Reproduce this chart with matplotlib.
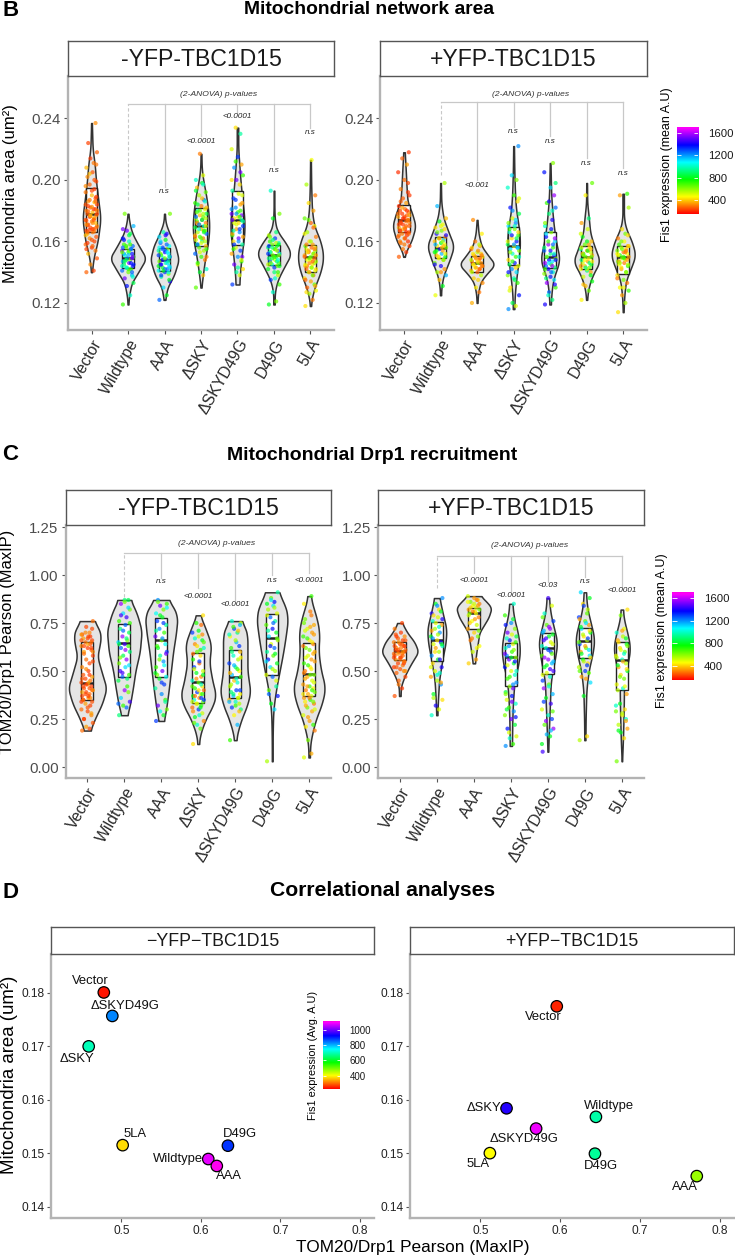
import numpy as np
import matplotlib
matplotlib.use("Agg")
import matplotlib.pyplot as plt
from matplotlib.colors import ListedColormap, Normalize, hsv_to_rgb

plt.rcParams['font.family'] = ['Liberation Sans', 'DejaVu Sans']

W, H = 735, 1259

categories = ["Vector", "Wildtype", "AAA", "ΔSKY", "ΔSKYD49G", "D49G", "5LA"]

# ---- panel B, mitochondrial area, box stats
area_minus_q1 = [.166, .1424, .141, .157, .1576, .145, .140]
area_minus_med = [.178, .149, .148, .170, .174, .1515, .150]
area_minus_q3 = [.1945, .155, .156, .1815, .1927, .158, .158]
area_plus_q1 = [.166, .149, .140, .145, .1425, .142, .139]
area_plus_med = [.174, .1555, .1457, .157, .150, .150, .150]
area_plus_q3 = [.1836, .163, .1507, .1695, .166, .157, .157]

# violin outlines: value levels and half widths
area_minus_levels = [
    [.14, .15, .16, .175, .19, .20, .21, .22, .237],
    [.119, .125, .133, .14, .149, .157, .165, .172, .178],
    [.122, .13, .138, .148, .157, .165, .172, .178],
    [.13, .14, .15, .16, .17, .18, .19, .2, .207, .217],
    [.132, .14, .15, .165, .175, .19, .2, .21, .22, .234],
    [.119, .127, .135, .143, .152, .16, .166, .172, .18, .193],
    [.118, .125, .132, .14, .15, .16, .17, .18, .195, .213],
]
area_minus_widths = [
    [.01, .06, .17, .25, .17, .12, .09, .03, .01],
    [.01, .03, .1, .28, .5, .3, .12, .04, .01],
    [.02, .08, .26, .39, .3, .14, .03, .01],
    [.01, .06, .12, .2, .23, .2, .14, .06, .02, .01],
    [.05, .07, .11, .19, .19, .12, .08, .05, .02, .02],
    [.02, .02, .1, .27, .48, .3, .1, .03, .01, .01],
    [.01, .05, .14, .28, .36, .28, .1, .04, .02, .01],
]
area_plus_levels = [
    [.15, .155, .16, .17, .18, .185, .195, .205, .218],
    [.125, .13, .138, .148, .157, .166, .175, .185, .198],
    [.12, .127, .134, .14, .145, .15, .157, .165, .174],
    [.116, .125, .135, .15, .16, .17, .18, .19, .205, .222],
    [.119, .125, .135, .148, .16, .17, .18, .19, .2, .211],
    [.122, .13, .138, .147, .155, .165, .175, .185, .198],
    [.114, .125, .135, .143, .151, .16, .168, .175, .191],
]
area_plus_widths = [
    [.01, .08, .2, .32, .2, .1, .07, .05, .02],
    [.015, .02, .08, .25, .37, .22, .08, .02, .01],
    [.01, .03, .1, .3, .5, .33, .12, .04, .01],
    [.02, .03, .07, .15, .18, .14, .07, .04, .02, .01],
    [.02, .03, .08, .27, .16, .1, .06, .03, .02, .01],
    [.01, .05, .16, .37, .24, .1, .06, .015, .01],
    [.01, .03, .08, .22, .34, .24, .08, .02, .02],
]

# single cells
area_minus_points = [
    [.14, .141, .145, .149, .152, .154, .156, .158, .16, .162, .163, .165, .166, .167, .168, .169, .17, .171, .172, .173, .174, .175, .176, .177, .178, .179, .18, .181, .182, .184, .186, .188, .19, .192, .194, .197, .199, .202, .205, .208, .211, .214, .218, .224, .237],
    [.119, .125, .131, .133, .136, .138, .14, .141, .142, .143, .144, .145, .146, .147, .148, .149, .15, .151, .152, .153, .154, .155, .156, .157, .158, .16, .162, .165, .167, .17, .178],
    [.122, .125, .13, .134, .137, .139, .14, .141, .142, .143, .144, .145, .146, .147, .148, .149, .15, .151, .152, .153, .154, .155, .156, .157, .159, .161, .163, .165, .166, .178],
    [.13, .138, .14, .142, .145, .148, .15, .152, .154, .156, .157, .158, .16, .161, .162, .163, .165, .166, .167, .168, .169, .17, .171, .172, .173, .174, .175, .176, .177, .178, .18, .181, .183, .185, .187, .19, .192, .195, .198, .2, .203, .217],
    [.132, .138, .14, .142, .145, .147, .15, .152, .154, .156, .158, .16, .162, .164, .166, .168, .17, .172, .174, .176, .178, .18, .182, .185, .188, .191, .193, .197, .2, .203, .208, .21, .215, .22, .23, .234],
    [.119, .121, .127, .132, .135, .138, .14, .142, .144, .145, .146, .147, .148, .149, .15, .151, .152, .153, .154, .155, .156, .157, .158, .159, .16, .162, .164, .166, .175, .178, .193],
    [.118, .122, .126, .128, .13, .132, .134, .136, .138, .14, .141, .142, .143, .144, .145, .146, .147, .148, .149, .15, .151, .152, .153, .154, .155, .156, .157, .158, .16, .163, .166, .17, .172, .175, .18, .185, .19, .197, .213],
]
area_minus_extra = [
    [.161, .164, .1665, .1675, .169, .1705, .172, .1735, .175, .1765, .178, .1795, .181, .1825, .184, .1855, .187, .189, .166, .168, .171, .174, .177, .18, .183, .186, .193, .196, .2, .204, .21, .159, .157, .155],
    [.14, .142, .144, .146, .148, .15, .152, .154, .156, .158, .143, .145, .147, .149, .151, .153, .155, .157, .137, .161, .164, .168],
    [.138, .14, .142, .144, .146, .148, .15, .152, .154, .156, .158, .141, .143, .145, .147, .149, .151, .153, .155, .135, .16, .164],
    [.155, .158, .16, .162, .164, .166, .168, .17, .172, .174, .176, .178, .18, .182, .184, .186, .159, .163, .167, .171, .175, .179, .188, .193, .197, .153, .15, .146],
    [.15, .155, .16, .165, .168, .171, .173, .175, .177, .179, .181, .184, .187, .19, .167, .172, .174, .176, .178, .163, .158, .148, .143, .2, .205, .212],
    [.14, .143, .145, .147, .149, .151, .153, .155, .157, .159, .161, .144, .146, .148, .15, .152, .154, .156, .158, .163, .136],
    [.135, .138, .14, .142, .144, .146, .148, .15, .152, .154, .156, .158, .143, .145, .147, .149, .151, .153, .155, .16, .165, .169, .174, .131, .127],
]
area_minus_fis = [
    [270, 230, 320, 250, 370, 290, 220],
    [700, 1000, 1350, 850, 1500, 1150, 620, 1250],
    [1250, 800, 1100, 1400, 950, 620, 1300, 1050],
    [650, 380, 820, 1000, 500, 300, 700, 1250, 560],
    [1300, 500, 950, 420, 1500, 700, 1200, 350],
    [800, 620, 1000, 700, 1300, 540, 900],
    [420, 300, 560, 470, 270, 640, 350],
]
area_plus_points = [
    [.15, .153, .155, .157, .159, .16, .162, .163, .164, .165, .166, .167, .168, .169, .17, .171, .172, .173, .174, .175, .176, .177, .178, .179, .18, .181, .183, .185, .188, .19, .194, .198, .2, .205, .21, .214, .218],
    [.125, .131, .135, .138, .14, .142, .144, .146, .148, .149, .15, .151, .152, .153, .154, .155, .156, .157, .158, .159, .16, .161, .162, .163, .165, .167, .169, .171, .173, .175, .183, .198],
    [.12, .127, .13, .133, .136, .138, .14, .141, .142, .143, .144, .145, .146, .147, .148, .149, .15, .151, .152, .153, .155, .157, .16, .165, .174],
    [.116, .118, .12, .125, .13, .133, .136, .138, .14, .142, .144, .145, .146, .148, .15, .152, .154, .155, .156, .157, .158, .16, .162, .164, .166, .168, .17, .172, .175, .178, .182, .186, .19, .195, .2, .203, .222],
    [.119, .122, .127, .13, .133, .135, .137, .139, .14, .142, .143, .144, .145, .146, .147, .148, .149, .15, .151, .152, .154, .156, .158, .16, .163, .166, .17, .174, .178, .182, .185, .19, .195, .205, .211],
    [.122, .128, .131, .134, .137, .14, .141, .142, .143, .144, .145, .146, .147, .148, .149, .15, .151, .152, .153, .154, .155, .156, .158, .16, .163, .168, .172, .175, .19, .198],
    [.114, .12, .125, .128, .13, .133, .135, .138, .14, .142, .144, .145, .146, .147, .148, .149, .15, .151, .152, .153, .154, .155, .156, .157, .158, .16, .162, .165, .168, .182, .19, .191],
]
area_plus_extra = [
    [.16, .162, .164, .166, .168, .17, .172, .174, .176, .178, .18, .182, .165, .167, .169, .171, .173, .175, .177, .186, .192, .158],
    [.14, .145, .148, .15, .152, .154, .156, .158, .16, .162, .164, .166, .168, .17, .153, .157],
    [.135, .14, .142, .143, .144, .145, .146, .147, .148, .149, .15, .151, .152, .154, .156, .158],
    [.128, .135, .14, .143, .147, .15, .153, .156, .158, .16, .162, .164, .166, .168, .17, .172, .174, .18, .188],
    [.125, .132, .136, .14, .142, .144, .146, .148, .15, .152, .154, .156, .158, .16, .162, .165, .168, .172, .18, .186, .198],
    [.132, .138, .142, .144, .146, .148, .15, .152, .154, .156, .158, .143, .147, .151, .155, .16, .165],
    [.13, .136, .14, .143, .145, .147, .149, .151, .153, .155, .157, .146, .148, .15, .152, .154, .16, .164],
]
area_plus_fis = [
    [260, 220, 300, 240, 280, 210, 340],
    [480, 800, 380, 1150, 560, 330, 1400, 620, 420],
    [360, 290, 440, 320, 400, 540, 270],
    [1200, 500, 850, 1350, 420, 700, 1000, 600, 1100],
    [1400, 900, 1250, 700, 1550, 1100, 1350, 600, 1000],
    [450, 640, 380, 780, 520, 340, 900],
    [420, 560, 340, 700, 460, 300, 620],
]

# ---- panel C, Drp1 recruitment
drp1_minus_q1 = [.349, .47, .47, .332, .358, .479, .37]
drp1_minus_med = [.44, .644, .66, .444, .467, .67, .483]
drp1_minus_q3 = [.653, .743, .774, .592, .61, .795, .644]
drp1_plus_q1 = [.56, .554, .72, .42, .483, .57, .40]
drp1_plus_med = [.606, .66, .80, .575, .618, .658, .56]
drp1_plus_q3 = [.65, .753, .83, .644, .696, .722, .653]

drp1_minus_levels = [
    [.19, .25, .33, .41, .5, .575, .63, .68, .72, .76],
    [.27, .33, .42, .5, .6, .71, .8, .87],
    [.24, .3, .4, .5, .6, .7, .78, .84, .87],
    [.12, .17, .25, .32, .375, .45, .54, .64, .72, .79],
    [.14, .18, .25, .32, .39, .5, .6, .68, .73, .76],
    [.03, .1, .2, .3, .4, .5, .6, .7, .78, .85, .91],
    [.05, .1, .15, .25, .33, .415, .5, .6, .7, .78, .85, .89],
]
drp1_minus_widths = [
    [.08, .2, .4, .52, .38, .27, .33, .37, .32, .18],
    [.08, .16, .24, .3, .42, .47, .34, .17],
    [.07, .13, .2, .26, .32, .4, .44, .32, .18],
    [.02, .05, .2, .4, .48, .38, .3, .35, .2, .05],
    [.03, .06, .17, .32, .41, .33, .33, .33, .27, .16],
    [.01, .01, .015, .03, .1, .2, .3, .38, .43, .34, .16],
    [.02, .02, .05, .18, .35, .44, .32, .25, .28, .2, .08, .04],
]
drp1_plus_levels = [
    [.37, .42, .47, .53, .6, .65, .7, .75],
    [.27, .35, .45, .55, .65, .72, .8, .88],
    [.54, .6, .7, .78, .83, .87, .89],
    [.11, .25, .35, .45, .55, .62, .7, .78, .85],
    [.08, .2, .35, .45, .55, .65, .72, .8, .88],
    [.14, .25, .4, .5, .6, .67, .75, .83, .91],
    [.03, .15, .3, .45, .55, .62, .7, .77, .82],
]
drp1_plus_widths = [
    [.02, .03, .12, .28, .5, .4, .2, .06],
    [.015, .03, .06, .14, .24, .26, .16, .07],
    [.03, .07, .15, .4, .48, .3, .18],
    [.03, .04, .06, .1, .22, .25, .19, .08, .04],
    [.01, .03, .06, .08, .18, .26, .17, .07, .03],
    [.015, .02, .04, .1, .22, .26, .16, .06, .03],
    [.005, .03, .05, .06, .17, .23, .15, .05, .03],
]

drp1_minus_points = [
    [.19, .2, .21, .23, .25, .27, .29, .3, .32, .33, .34, .35, .36, .37, .38, .39, .4, .41, .42, .43, .44, .45, .46, .47, .48, .5, .52, .54, .56, .58, .6, .61, .62, .63, .64, .65, .66, .67, .68, .69, .7, .73, .76],
    [.27, .31, .32, .34, .36, .39, .4, .45, .46, .47, .48, .5, .52, .54, .56, .58, .6, .62, .63, .64, .65, .66, .68, .7, .72, .74, .76, .78, .8, .82, .85, .87, .87],
    [.24, .27, .29, .3, .32, .35, .38, .41, .43, .46, .47, .48, .5, .52, .55, .58, .6, .62, .64, .66, .68, .7, .72, .74, .76, .78, .8, .82, .84, .85, .87],
    [.12, .2, .22, .24, .26, .28, .3, .31, .32, .33, .34, .35, .36, .37, .38, .39, .4, .41, .42, .44, .45, .47, .49, .5, .52, .54, .56, .58, .6, .62, .64, .66, .68, .7, .74, .75, .79],
    [.14, .22, .27, .3, .31, .33, .34, .35, .36, .37, .38, .39, .4, .42, .44, .45, .47, .48, .5, .52, .54, .56, .58, .6, .62, .65, .68, .7, .72, .75, .76],
    [.03, .3, .33, .37, .4, .42, .47, .48, .5, .52, .54, .56, .58, .6, .62, .64, .66, .68, .7, .72, .74, .76, .78, .8, .82, .84, .85, .86, .88, .91],
    [.05, .07, .14, .19, .21, .22, .24, .27, .29, .31, .33, .34, .35, .36, .37, .38, .39, .4, .41, .42, .43, .45, .47, .48, .5, .52, .54, .56, .58, .6, .62, .64, .66, .68, .7, .72, .74, .77, .81, .85, .89],
]
drp1_minus_extra = [
    [.25, .28, .31, .34, .36, .38, .4, .42, .44, .46, .48, .51, .55, .59, .62, .64, .66, .68, .7, .72, .35, .37, .39, .41, .43, .6, .63, .65, .67, .69],
    [.33, .42, .49, .53, .57, .61, .64, .67, .71, .75, .79, .83, .86],
    [.34, .44, .49, .53, .56, .59, .63, .67, .71, .75, .79, .83, .86],
    [.23, .27, .29, .31, .33, .35, .37, .38, .4, .42, .43, .46, .48, .51, .55, .59, .61, .63, .65, .67, .69, .71, .34, .36],
    [.29, .32, .34, .36, .38, .4, .43, .46, .49, .51, .53, .57, .6, .63, .66, .69, .71, .73, .74],
    [.38, .45, .51, .55, .59, .63, .67, .71, .75, .79, .83, .87],
    [.26, .3, .32, .34, .36, .38, .4, .42, .44, .46, .48, .49, .51, .53, .55, .57, .59, .61, .63, .65, .67, .69, .71, .73, .75, .79],
]
drp1_minus_fis = [
    [280, 230, 340, 250, 220, 310, 240],
    [900, 1250, 700, 1450, 1100, 620, 1550, 850],
    [1300, 800, 1050, 620, 1500, 700, 1200, 950],
    [420, 650, 1000, 320, 800, 520, 1300, 280, 720],
    [700, 1150, 450, 900, 1300, 560, 1000, 380],
    [560, 1100, 800, 1350, 650, 950, 1250, 500],
    [500, 360, 620, 300, 440, 700, 340],
]
drp1_plus_points = [
    [.37, .41, .43, .47, .49, .5, .51, .52, .53, .54, .55, .56, .57, .58, .59, .6, .61, .62, .63, .64, .65, .66, .67, .68, .69, .7, .72, .75],
    [.27, .3, .32, .35, .38, .43, .45, .47, .49, .5, .52, .54, .56, .58, .6, .62, .63, .64, .65, .66, .68, .7, .72, .74, .76, .78, .8, .82, .85, .88],
    [.54, .56, .6, .63, .66, .68, .7, .72, .74, .76, .78, .8, .81, .82, .83, .84, .85, .86, .87, .88, .89],
    [.11, .12, .15, .16, .2, .22, .25, .27, .29, .31, .33, .35, .37, .39, .41, .42, .44, .46, .48, .5, .52, .54, .56, .57, .58, .6, .62, .64, .66, .68, .7, .72, .75, .79, .85],
    [.08, .16, .17, .2, .22, .25, .27, .3, .33, .36, .38, .41, .43, .45, .47, .49, .5, .52, .54, .56, .58, .6, .62, .64, .66, .68, .7, .72, .74, .76, .8, .84, .88],
    [.14, .16, .37, .44, .47, .49, .5, .52, .54, .56, .58, .6, .62, .64, .66, .68, .7, .72, .74, .76, .78, .82, .85, .88, .91],
    [.03, .15, .18, .2, .22, .25, .27, .29, .3, .33, .38, .4, .41, .43, .46, .48, .5, .52, .54, .56, .58, .6, .62, .64, .66, .68, .7, .72, .79, .82],
]
drp1_plus_extra = [
    [.45, .5, .52, .54, .56, .57, .58, .59, .6, .61, .62, .63, .64, .65, .66, .68, .55, .57, .59, .6, .61, .63],
    [.36, .44, .48, .52, .56, .6, .64, .67, .69, .71, .73, .75, .77, .79, .81, .84],
    [.62, .67, .71, .75, .77, .79, .8, .81, .82, .83, .84, .85, .86, .87],
    [.18, .26, .3, .34, .38, .43, .47, .5, .53, .55, .57, .59, .61, .63, .65, .67, .69, .74, .77],
    [.12, .19, .24, .29, .34, .42, .48, .51, .53, .55, .57, .59, .61, .63, .65, .67, .69, .71, .73, .78],
    [.46, .5, .53, .55, .57, .59, .61, .63, .65, .67, .69, .71, .73, .75, .77, .8, .84],
    [.19, .24, .28, .32, .42, .47, .51, .53, .55, .57, .59, .61, .63, .65, .67, .71],
]
drp1_plus_fis = [
    [250, 220, 290, 235, 270, 320],
    [1000, 500, 1400, 420, 800, 1200, 560, 350],
    [400, 340, 520, 460, 300, 620],
    [1200, 700, 1000, 500, 1350, 820, 1500, 600],
    [1450, 800, 1150, 1550, 650, 1300, 1000, 500],
    [550, 420, 800, 1100, 340, 650, 1300],
    [620, 420, 800, 350, 540, 1000, 480],
]

# bracket drop ends and p-value labels, Wildtype .. 5LA
area_minus_drop = [.187, .1957, .2286, .2436, .2098, .234]
area_minus_pval = ["n.s", "<0.0001", "<0.0001", "n.s", "n.s"]
area_minus_pval_y = [.1924, .2253, .2412, .206, .2308]
area_plus_drop = [.2032, .2, .2347, .2286, .2142, .2077]
area_plus_pval = ["<0.001", "n.s", "n.s", "n.s", "n.s"]
area_plus_pval_y = [.1966, .2317, .2249, .2104, .2039]
drp1_minus_drop = [.887, .984, .932, .87, 1.0, 1.01]
drp1_minus_pval = ["n.s", "<0.0001", "<0.0001", "n.s", "<0.0001"]
drp1_minus_pval_y = [.965, .887, .844, .974, .974]
drp1_plus_drop = [.93, 1.01, .915, .965, .99, .94]
drp1_plus_pval = ["<0.0001", "<0.0001", "<0.03", "n.s", "<0.0001"]
drp1_plus_pval_y = [.974, .895, .945, .964, .917]

# ---- panel D, group means
corr_minus_names = ["Vector", "ΔSKYD49G", "ΔSKY", "5LA", "D49G", "Wildtype", "AAA"]
corr_minus_x = [.478, .4887, .459, .5017, .634, .6093, .620]
corr_minus_y = [.1801, .1757, .170, .1515, .1514, .1489, .1476]
corr_minus_fis = [240, 834, 700, 378, 890, 1080, 1110]
corr_plus_names = ["Vector", "ΔSKY", "ΔSKYD49G", "5LA", "Wildtype", "D49G", "AAA"]
corr_plus_x = [.5957, .5327, .5698, .5118, .6448, .6436, .7713]
corr_plus_y = [.1775, .1584, .1546, .150, .1568, .1499, .1457]
corr_plus_fis = [250, 950, 1090, 400, 690, 680, 470]

# label offsets in px from the point
minus_offsets = [(-13, 11.7), (13, 10), (-12, -12.3), (12.3, 11.3), (12.3, 11.3), (-30.7, 0), (12.3, -10.3)]
plus_offsets = [(-13, -10.7), (-23, 0), (-12, -10.3), (-12.3, -10.7), (12.7, 11.3), (6, -12.7), (-12.3, -10.7)]

rainbow = ListedColormap(hsv_to_rgb(np.column_stack([np.linspace(0, .85, 256), np.ones(256), np.ones(256)])))
JITTER = [-.14, .06, -.03, .15, -.09, .11, .01, -.16, .08, -.05, .13, -.11, .03]

fig = plt.figure(figsize=(W / 100, H / 100), dpi=100, facecolor="white")


def px_axes(left, top, right, bottom):
    return fig.add_axes([left / W, 1 - bottom / H, (right - left) / W, (bottom - top) / H])


def px_text(x, y, s, **kw):
    kw.setdefault("ha", "center")
    kw.setdefault("va", "center")
    return fig.text(x / W, 1 - y / H, s, **kw)


def add_strip(left, top, right, bottom, label, size, edge="#555555"):
    st = px_axes(left, top, right, bottom)
    st.set_xticks([])
    st.set_yticks([])
    for s in st.spines.values():
        s.set_color(edge)
        s.set_linewidth(1.0)
    st.text(.5, .48, label, transform=st.transAxes, ha="center", va="center", fontsize=size, color="#1a1a1a")


def style_axes(ax):
    ax.spines["top"].set_visible(False)
    ax.spines["right"].set_visible(False)
    ax.spines["left"].set_color("#b3b3b3")
    ax.spines["bottom"].set_color("#b3b3b3")
    ax.spines["left"].set_linewidth(1.7)
    ax.spines["bottom"].set_linewidth(1.7)


def violin_panel(box, strip_top, label, xlim, ylim, yticks, fmt, levels, widths, q1, med, q3,
                 points, extra, fis, drop, pvals, pval_y, bracket_y, head_y, head_x):
    left, top, right, bottom = box
    ax = px_axes(left, top, right, bottom)
    norm = Normalize(150, 1706)
    for i in range(7):
        x = i + 1
        y = np.linspace(levels[i][0], levels[i][-1], 120)
        w = np.interp(y, levels[i], widths[i])
        w = np.convolve(np.pad(w, 6, mode="edge"), np.ones(13) / 13, mode="valid")
        ax.fill_betweenx(y, x - w, x + w, facecolor="#e5e5e5", edgecolor="#333333", linewidth=1.1, zorder=2)
        ax.bar(x, q3[i] - q1[i], bottom=q1[i], width=.32, facecolor="white", edgecolor="#222222", linewidth=1.0, zorder=3)
        ax.plot([x - .16, x + .16], [med[i], med[i]], color="#222222", linewidth=1.8, solid_capstyle="butt", zorder=3)
        pts = np.array(points[i] + extra[i])
        off = np.array([JITTER[k % len(JITTER)] for k in range(len(pts))])
        cols = [rainbow(norm(fis[i][k % len(fis[i])])) for k in range(len(pts))]
        ax.scatter(x + off, pts, s=9, c=cols, alpha=.7, linewidths=0, zorder=4)

    # bracket
    ax.plot([2, 7], [bracket_y, bracket_y], color="#c8c8c8", linewidth=.9, zorder=1)
    ax.plot([2, 2], [drop[0], bracket_y], color="#c8c8c8", linewidth=.8, linestyle=(0, (3, 2)), zorder=1)
    for i in range(1, 6):
        ax.plot([i + 2, i + 2], [drop[i], bracket_y], color="#c8c8c8", linewidth=.9, zorder=1)
        ax.text(i + 2, pval_y[i - 1], pvals[i - 1], ha="center", va="center", fontsize=5.8, style="italic", color="#222222")
    ax.text(head_x, head_y, "(2-ANOVA) p-values", ha="center", va="center", fontsize=6.1, style="italic", color="#333333")

    ax.set_xlim(*xlim)
    ax.set_ylim(*ylim)
    ax.set_yticks(yticks)
    ax.set_yticklabels([fmt % t for t in yticks], fontsize=10.8, color="#4d4d4d")
    ax.set_xticks(range(1, 8))
    ax.set_xticklabels(categories, rotation=60, ha="right", rotation_mode="anchor", fontsize=11.4, color="#2a2a2a")
    ax.tick_params(axis="both", color="#555555", length=3, width=.8, pad=2)
    style_axes(ax)
    add_strip(left, strip_top, right, top, label, 16.6)
    return ax


def add_colorbar(left, top, right, bottom, vmin, vmax, ticks, size):
    cax = px_axes(left, top, right, bottom)
    grad = np.linspace(0, 1, 256)[:, None]
    cax.imshow(grad, origin="lower", aspect="auto", extent=[0, 1, vmin, vmax], cmap=rainbow)
    cax.hlines(ticks, 0, .2, color="white", linewidth=.6)
    cax.hlines(ticks, .8, 1, color="white", linewidth=.6)
    cax.set_xticks([])
    cax.yaxis.tick_right()
    cax.set_yticks(ticks)
    cax.set_yticklabels([str(t) for t in ticks], fontsize=size, color="#1a1a1a")
    cax.tick_params(axis="y", length=0, pad=7)
    cax.set_ylim(vmin, vmax)
    for s in cax.spines.values():
        s.set_visible(False)


# titles
px_text(369, 9, "Mitochondrial network area", fontsize=13.9, fontweight="bold")
px_text(372, 456, "Mitochondrial Drp1 recruitment", fontsize=14, fontweight="bold")
px_text(383, 890.5, "Correlational analyses", fontsize=15.2, fontweight="bold")
px_text(2, 11, "B", ha="left", fontsize=16, fontweight="bold")
px_text(2, 455, "C", ha="left", fontsize=16, fontweight="bold")
px_text(2, 892, "D", ha="left", fontsize=16, fontweight="bold")

# panel B
area_ticks = [.12, .16, .20, .24]
violin_panel((68, 76, 334, 330), 41, "-YFP-TBC1D15", (.356, 7.644), (.1024, .2676), area_ticks, "%.2f",
             area_minus_levels, area_minus_widths, area_minus_q1, area_minus_med, area_minus_q3,
             area_minus_points, area_minus_extra, area_minus_fis, area_minus_drop, area_minus_pval, area_minus_pval_y,
             .2492, .2553, 4.47)
violin_panel((380.5, 76, 646.7, 330), 41, "+YFP-TBC1D15", (.356, 7.644), (.1024, .2676), area_ticks, "%.2f",
             area_plus_levels, area_plus_widths, area_plus_q1, area_plus_med, area_plus_q3,
             area_plus_points, area_plus_extra, area_plus_fis, area_plus_drop, area_plus_pval, area_plus_pval_y,
             .2505, .2553, 4.47)
px_text(10.7, 194, "Mitochondria area (um²)", rotation=90, fontsize=12)
add_colorbar(676.7, 126.7, 698.3, 214, 152, 1706, [400, 800, 1200, 1600], 8.2)
px_text(666.7, 165, "Fis1 expression (mean A.U)", rotation=90, fontsize=9)

# panel C
drp1_ticks = [0, .25, .5, .75, 1.0, 1.25]
violin_panel((65.5, 524.7, 331, 778), 490.3, "-YFP-TBC1D15", (.41, 7.59), (-.057, 1.262), drp1_ticks, "%.2f",
             drp1_minus_levels, drp1_minus_widths, drp1_minus_q1, drp1_minus_med, drp1_minus_q3,
             drp1_minus_points, drp1_minus_extra, drp1_minus_fis, drp1_minus_drop, drp1_minus_pval, drp1_minus_pval_y,
             1.113, 1.166, 4.5)
violin_panel((378, 524.7, 643.7, 778), 490.3, "+YFP-TBC1D15", (.41, 7.59), (-.057, 1.262), drp1_ticks, "%.2f",
             drp1_plus_levels, drp1_plus_widths, drp1_plus_q1, drp1_plus_med, drp1_plus_q3,
             drp1_plus_points, drp1_plus_extra, drp1_plus_fis, drp1_plus_drop, drp1_plus_pval, drp1_plus_pval_y,
             1.10, 1.156, 4.5)
px_text(8, 642, "TOM20/Drp1 Pearson (MaxIP)", rotation=90, fontsize=11.9)
add_colorbar(672.3, 592.3, 694.3, 680, 152, 1706, [400, 800, 1200, 1600], 8.2)
px_text(661.7, 631, "Fis1 expression (mean A.U)", rotation=90, fontsize=9)

# panel D
corr_norm = Normalize(225, 1118)


def corr_panel(box, strip_top, label, names, xs, ys, fis, offsets):
    left, top, right, bottom = box
    ax = px_axes(left, top, right, bottom)
    ax.scatter(xs, ys, s=68, c=fis, cmap=rainbow, norm=corr_norm, edgecolors="black", linewidths=.9, zorder=3)
    for name, x, y, off in zip(names, xs, ys, offsets):
        ax.annotate(name, (x, y), xytext=(off[0] * .72, off[1] * .72), textcoords="offset points",
                    ha="center", va="center", fontsize=9.4, color="#111111", zorder=2)
    ax.set_xlim(.412, .818)
    ax.set_ylim(.1378, .1873)
    ax.set_xticks([.5, .6, .7, .8])
    ax.set_xticklabels(["0.5", "0.6", "0.7", "0.8"], fontsize=8.6, color="#222222")
    ax.set_yticks([.14, .15, .16, .17, .18])
    ax.set_yticklabels(["0.14", "0.15", "0.16", "0.17", "0.18"], fontsize=8.6, color="#222222")
    ax.tick_params(axis="both", color="#555555", length=3, width=.8, pad=2)
    style_axes(ax)
    add_strip(left, strip_top, right, top, label, 12.8)


corr_panel((51.3, 954, 374.3, 1218.3), 927.3, "\u2212YFP\u2212TBC1D15", corr_minus_names, corr_minus_x,
           corr_minus_y, corr_minus_fis, minus_offsets)
corr_panel((410.3, 954, 734, 1218.3), 927.3, "+YFP\u2212TBC1D15", corr_plus_names, corr_plus_x,
           corr_plus_y, corr_plus_fis, plus_offsets)
px_text(9.3, 1075, "Mitochondria area (um²)", rotation=90, fontsize=13.4)
px_text(413, 1247.5, "TOM20/Drp1 Pearson (MaxIP)", fontsize=12.4)
add_colorbar(323, 1021, 340, 1089, 225, 1118, [400, 600, 800, 1000], 7)
px_text(313, 1055, "Fis1 expression (Avg. A.U)", rotation=90, fontsize=7.8)

fig.savefig("out.png", dpi=100)
